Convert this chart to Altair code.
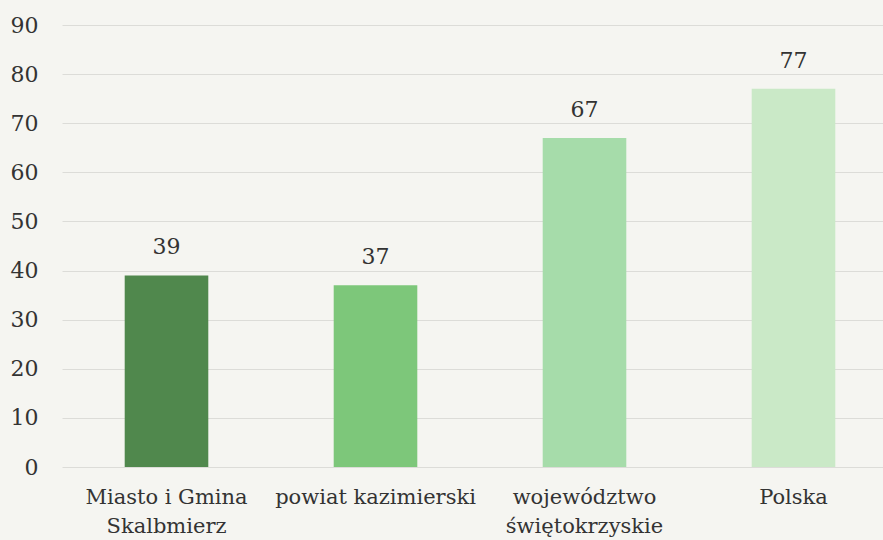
import altair as alt
import pandas as pd

categories = ["Miasto i Gmina\nSkalbmierz", "powiat kazimierski", "województwo\nświętokrzyskie", "Polska"]
values = [39, 37, 67, 77]
colors = ["#50884d", "#7dc77a", "#a6dcaa", "#cae9c7"]

df = pd.DataFrame({"cat": categories, "val": values, "col": colors})

FONT = "DejaVu Serif"

x = alt.X("cat:N", sort=categories, title=None,
          scale=alt.Scale(range=[0, 836], paddingInner=0.6, paddingOuter=0.3),
          axis=alt.Axis(labelAngle=0, labelExpr="split(datum.label, '\\n')",
                        labelFont=FONT, labelFontSize=21, labelColor="#333333",
                        labelLineHeight=29, labelPadding=19, ticks=False, labelLimit=0,
                        domain=False, grid=False, labelBaseline="top"))
y = alt.Y("val:Q", title=None,
          scale=alt.Scale(domain=[0, 90]),
          axis=alt.Axis(values=list(range(0, 100, 10)), labelFont=FONT, labelFontSize=22,
                        labelColor="#333333", labelPadding=24, ticks=False, domain=False,
                        grid=True, gridColor="#dcdcd8", gridWidth=1))

bars = alt.Chart(df).mark_bar().encode(
    x=x, y=y, color=alt.Color("col:N", scale=None)
)
text = alt.Chart(df).mark_text(baseline="bottom", dy=-16, font=FONT, fontSize=22,
                               color="#333333").encode(
    x=alt.X("cat:N", sort=categories),
    y="val:Q",
    text="val:Q",
)

chart = (bars + text).properties(
    width=821, height=442,
    autosize=alt.AutoSizeParams(type="none"),
    padding={"left": 62, "top": 25, "right": 0, "bottom": 73},
    background="#f5f5f1",
).configure_view(stroke=None)

chart.save("out.html", embed_options={"renderer": "svg", "actions": False})
